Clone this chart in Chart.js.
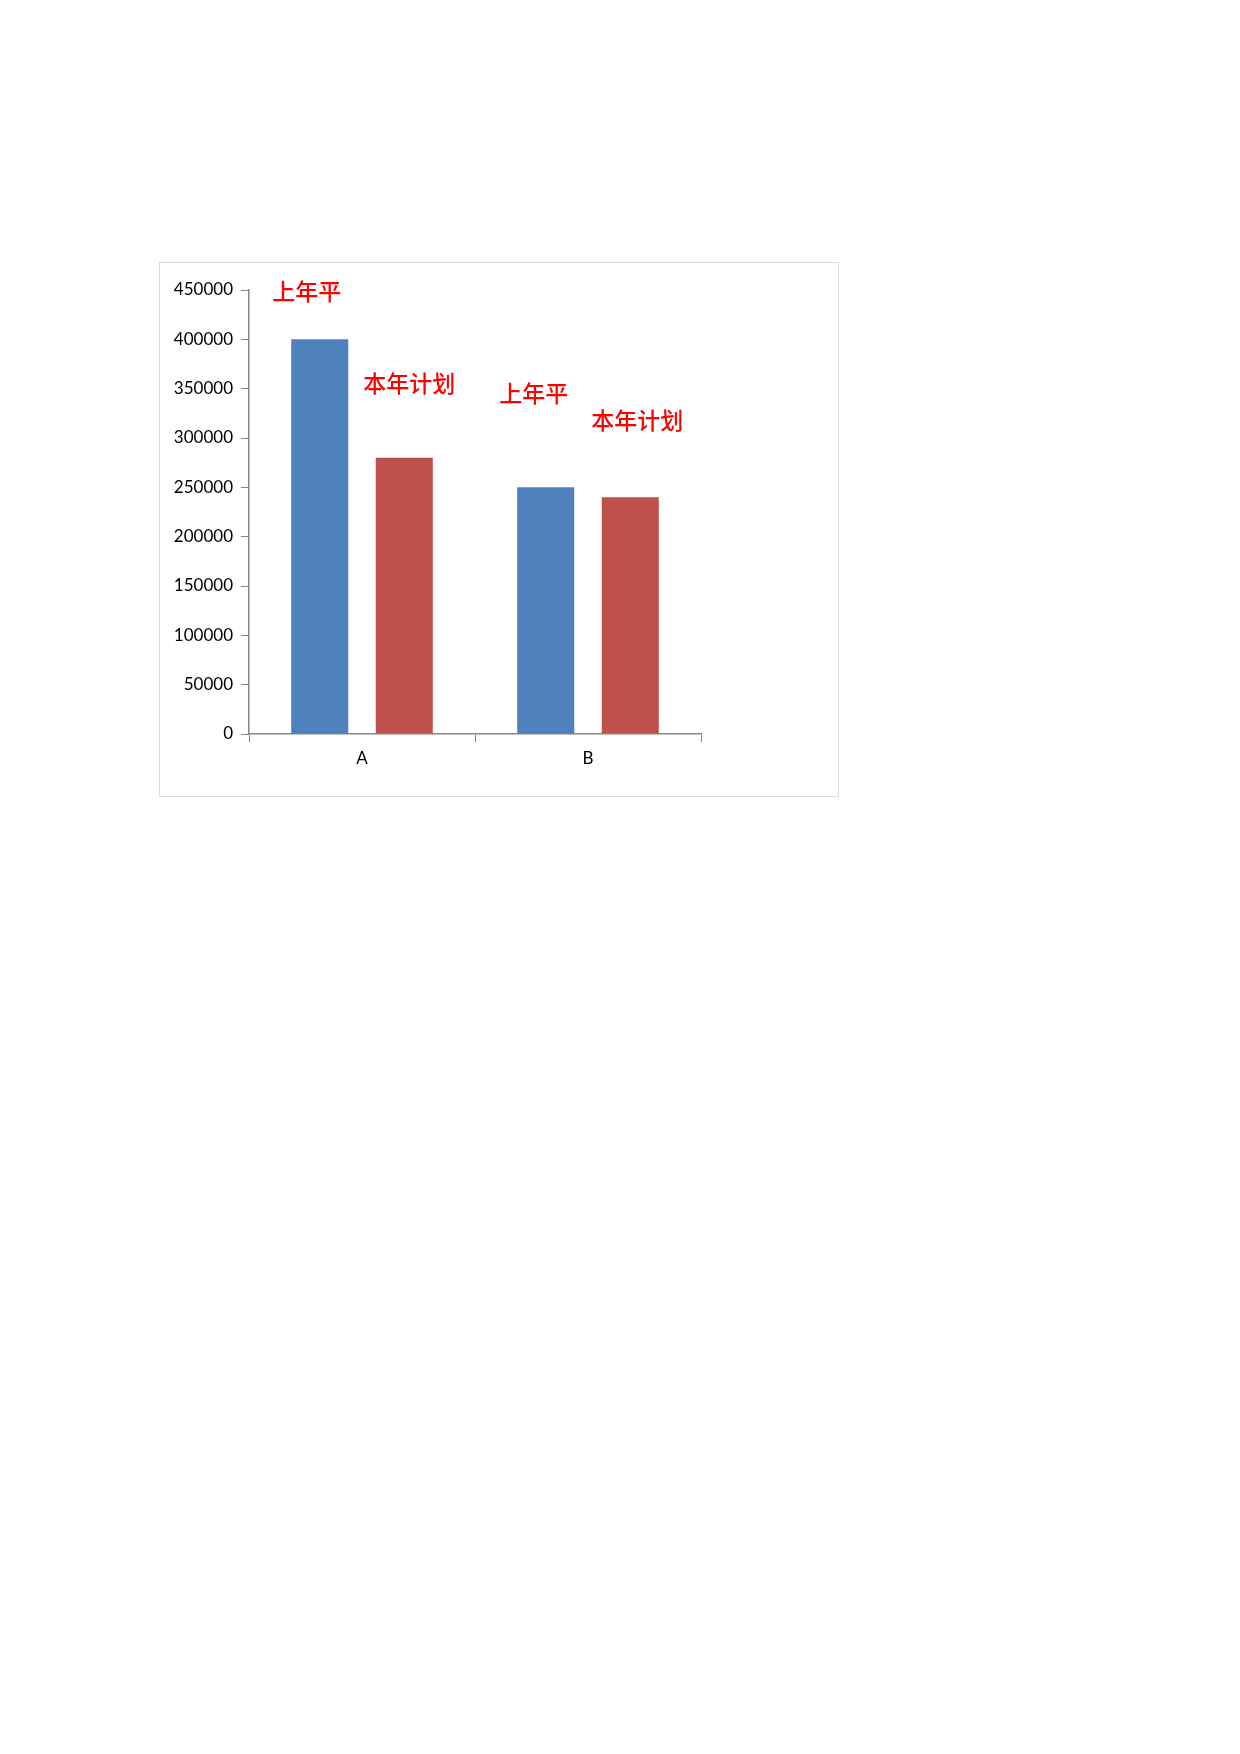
<!DOCTYPE html>
<html>
<head>
<meta charset="utf-8">
<script src="https://cdn.jsdelivr.net/npm/chart.js@4/dist/chart.umd.min.js"></script>
<style>
  html, body { margin: 0; padding: 0; background: #fff; }
  #box {
    position: absolute; left: 159px; top: 262px;
    width: 678px; height: 533px;
    border: 1.5px solid #d9d9d9;
  }
  #chart { display: block; }
</style>
</head>
<body>
<div id="box"><canvas id="chart" width="678" height="533"></canvas></div>
<script>
// data
var categories = ['A', 'B'];
var lastYear = [400000, 250000];   // 上年平
var thisPlan = [280000, 240000];   // 本年计划
var seriesNames = ['上年平', '本年计划'];
var yTicksMax = 450000;
var yStep = 50000;

// where Excel dragged the series-name labels, relative to each bar top (px)
var labelOffsets = [
    [[-13, -48], [5, -74]],
    [[-12, -94], [7, -77]]
];

var seriesLabels = {
    id: 'seriesLabels',
    afterDatasetsDraw: function (chart) {
        var ctx = chart.ctx;
        ctx.save();
        ctx.fillStyle = '#ff0000';
        ctx.font = '500 23px "Noto Sans CJK SC"';
        ctx.textAlign = 'center';
        ctx.textBaseline = 'middle';
        chart.data.datasets.forEach(function (ds, d) {
            var meta = chart.getDatasetMeta(d);
            meta.data.forEach(function (bar, i) {
                var off = labelOffsets[i][d];
                ctx.fillText(ds.label, bar.x + off[0], bar.y + off[1]);
            });
        });
        ctx.restore();
    }
};

var axisColor = '#868686';

new Chart(document.getElementById('chart').getContext('2d'), {
    type: 'bar',
    data: {
        labels: categories,
        datasets: [{
            label: seriesNames[0],
            data: lastYear,
            backgroundColor: '#4f81bd',
            categoryPercentage: 0.748,
            barPercentage: 0.675
        }, {
            label: seriesNames[1],
            data: thisPlan,
            backgroundColor: '#c0504d',
            categoryPercentage: 0.748,
            barPercentage: 0.675
        }]
    },
    options: {
        responsive: false,
        animation: false,
        devicePixelRatio: 1,
        layout: { padding: { top: 27, bottom: 32, left: 0, right: 137 } },
        plugins: {
            legend: { display: false },
            tooltip: { enabled: false }
        },
        scales: {
            x: {
                grid: { display: true, drawOnChartArea: false, drawTicks: true, tickLength: 8, color: axisColor, offset: true },
                border: { display: true, color: axisColor, width: 1.5 },
                ticks: { color: '#000', padding: 6, font: { family: 'Lato', size: 17 } },
                afterFit: function (scale) { scale.height = 30; }
            },
            y: {
                min: 0,
                max: yTicksMax,
                grid: { display: true, drawOnChartArea: false, drawTicks: true, tickLength: 8, color: axisColor },
                border: { display: true, color: axisColor, width: 1.5 },
                ticks: {
                    stepSize: yStep, color: '#000', padding: 8,
                    font: { family: 'Lato', size: 17 },
                    callback: function (v) { return String(v); }
                },
                afterFit: function (scale) { scale.width = 89; }
            }
        }
    },
    plugins: [seriesLabels]
});
</script>
</body>
</html>
